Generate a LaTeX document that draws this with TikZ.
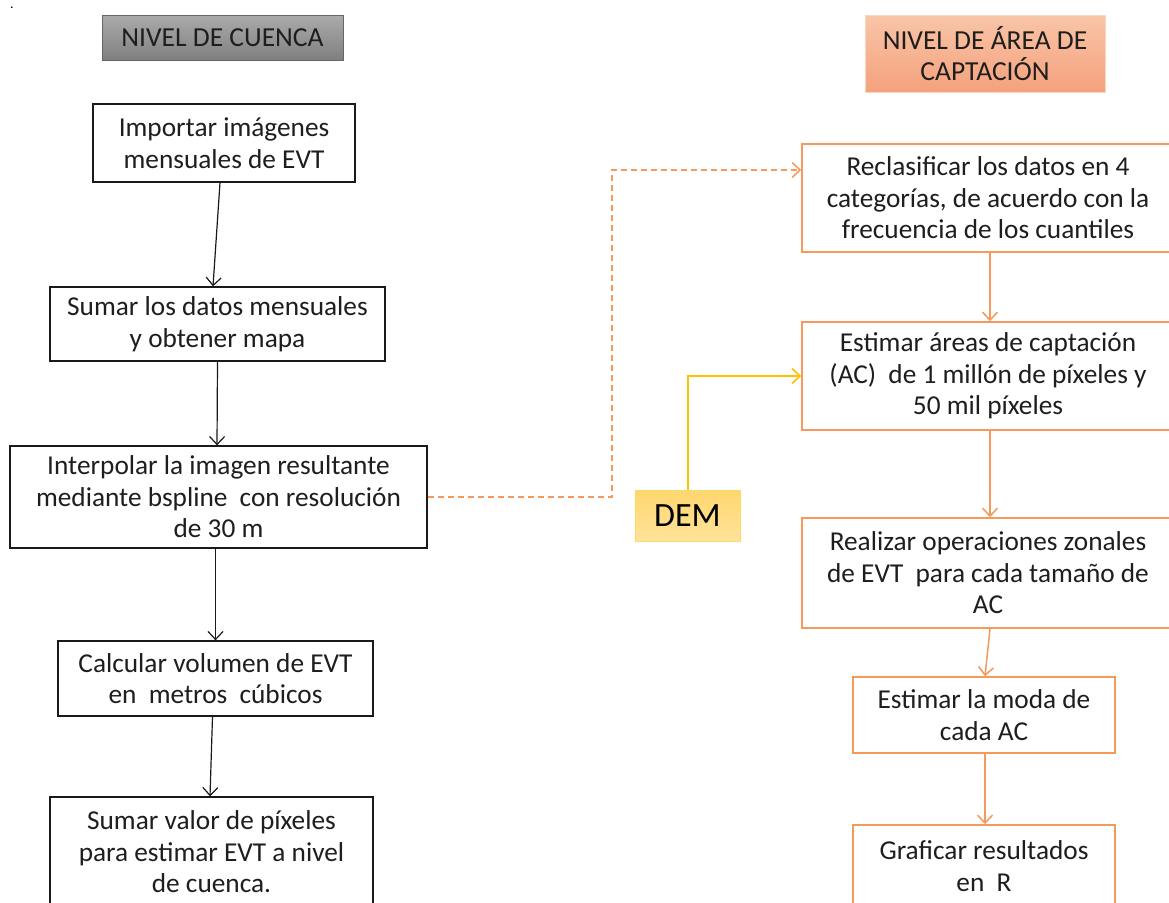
\documentclass[tikz,border=0pt]{standalone}
\usepackage{fontspec}
\setmainfont{Carlito}
\usetikzlibrary{arrows.meta,calc}
\definecolor{txt}{HTML}{1E1E1E}
\definecolor{boxblk}{HTML}{1A1A1A}
\definecolor{orng}{HTML}{F59A5A}
\definecolor{yel}{HTML}{FFC000}
\definecolor{salmtop}{HTML}{F9C5A8}
\definecolor{salmbot}{HTML}{F4A17C}
\definecolor{demtop}{HTML}{FFD76E}
\definecolor{dembot}{HTML}{FFE39A}
\tikzset{
  blkbox/.style={draw=boxblk, line width=1.3pt, fill=white, align=center, text=txt,
    font=\fontsize{27.3}{31.5}\selectfont, inner sep=0pt},
  orbox/.style={draw=orng, line width=1.6pt, fill=white, align=center, text=txt,
    font=\fontsize{27.3}{31.5}\selectfont, inner sep=0pt},
  blkarrow/.style={draw=boxblk, line width=1.2pt, -{Straight Barb[length=8pt,width=15pt,line width=1.2pt]}},
  orarrow/.style={draw=orng, line width=1.5pt, -{Straight Barb[length=8pt,width=15pt,line width=1.5pt]}},
  yelarrow/.style={draw=yel, line width=2pt, -{Straight Barb[length=8pt,width=15pt,line width=1.6pt]}},
  hdrgray/.style={draw=black!60, line width=1pt, top color=black!33, bottom color=black!50,
    text=txt, font=\fontsize{27.5}{30}\selectfont, inner sep=0pt, align=center},
  hdrsalmon/.style={draw=orng!40, line width=0.8pt, top color=salmtop, bottom color=salmbot,
    text=txt, font=\fontsize{27.5}{31}\selectfont, inner sep=0pt, align=center},
}
\newcommand{\dsp}{\hspace{0.45em}}
\begin{document}
\begin{tikzpicture}[x=1pt,y=-1pt]
\useasboundingbox (0,0) rectangle (1169,902);
\clip (0,0) rectangle (1169,902);
\fill[white] (0,0) rectangle (1169,902);

\node[font=\fontsize{14}{14}\selectfont, inner sep=0pt, anchor=base] (dot) at (12,9) {.};

% headers
\node[hdrgray, minimum width=241pt, minimum height=45pt] (H1) at (222.5,37.5) {NIVEL DE CUENCA};
\node[hdrsalmon, minimum width=240pt, minimum height=77pt] (H2) at (985,53.5) {NIVEL DE ÁREA DE\\CAPTACIÓN};

% left column
\node[blkbox, minimum width=262pt, minimum height=78pt] (L1) at (224,143) {Importar imágenes\\mensuales de EVT};
\node[blkbox, minimum width=335pt, minimum height=74pt] (L2) at (217.5,324) {Sumar los datos mensuales\\y obtener mapa};
\node[blkbox, minimum width=417pt, minimum height=102pt] (L3) at (218.5,497) {Interpolar la imagen resultante\\mediante bspline\dsp con resolución\\de 30 m};
\node[blkbox, minimum width=315pt, minimum height=75pt] (L4) at (215.5,678.5) {Calcular volumen de EVT\\en\dsp metros\dsp cúbicos};
\node[blkbox, minimum width=323pt, minimum height=110pt] (L5) at (211.5,852) {Sumar valor de píxeles\\para estimar EVT a nivel\\de cuenca.};

% right column
\node[orbox, minimum width=372pt, minimum height=108pt] (R1) at (988,198) {Reclasificar los datos en 4\\categorías, de acuerdo con la\\frecuencia de los cuantiles};
\node[orbox, minimum width=372pt, minimum height=108pt] (R2) at (988,376) {Estimar áreas de captación\\(AC)\dsp de 1 millón de píxeles y\\50 mil píxeles};
\node[orbox, minimum width=372pt, minimum height=110pt] (R3) at (988,573) {Realizar operaciones zonales\\de EVT\dsp para cada tamaño de\\AC};
\node[orbox, minimum width=262pt, minimum height=76pt] (R4) at (984,715) {Estimar la moda de\\cada AC};
\node[orbox, minimum width=262pt, minimum height=82pt] (R5) at (984,866) {Graficar resultados\\en\dsp R};

% DEM
\node[draw=yel!60, line width=1pt, top color=demtop, bottom color=dembot, minimum width=105pt, minimum height=51pt,
  inner sep=0pt, text=black, font=\fontsize{34}{35}\selectfont] (DEM) at (687.5,515.5) {DEM};

% left arrows
\draw[blkarrow] ([xshift=-4pt]L1.south) -- ([xshift=-4.5pt]L2.north);
\draw[blkarrow] (L2.south) -- ([xshift=-0.5pt]L2.south |- L3.north);
\draw[blkarrow] ([xshift=-3pt]L3.south) -- (L4.north);
\draw[blkarrow] ([xshift=-3pt]L4.south) -- ([xshift=-1.5pt]L5.north);

% right arrows
\draw[orarrow] ([xshift=2pt]R1.south) -- ([xshift=2pt]R2.north);
\draw[orarrow] ([xshift=2pt]R2.south) -- ([xshift=2pt]R3.north);
\draw[orarrow] ([xshift=2pt]R3.south) -- ([xshift=1pt]R4.north);
\draw[orarrow] ([xshift=1pt]R4.south) -- ([xshift=1pt]R5.north);

% dashed link
\coordinate (dk) at (612,497);
\draw[orarrow, dash pattern=on 6pt off 4pt] (L3.east) -- (dk) |- ([yshift=28pt]R1.west);

% DEM link
\draw[yelarrow] (DEM.north) |- (R2.west);
\end{tikzpicture}
\end{document}
